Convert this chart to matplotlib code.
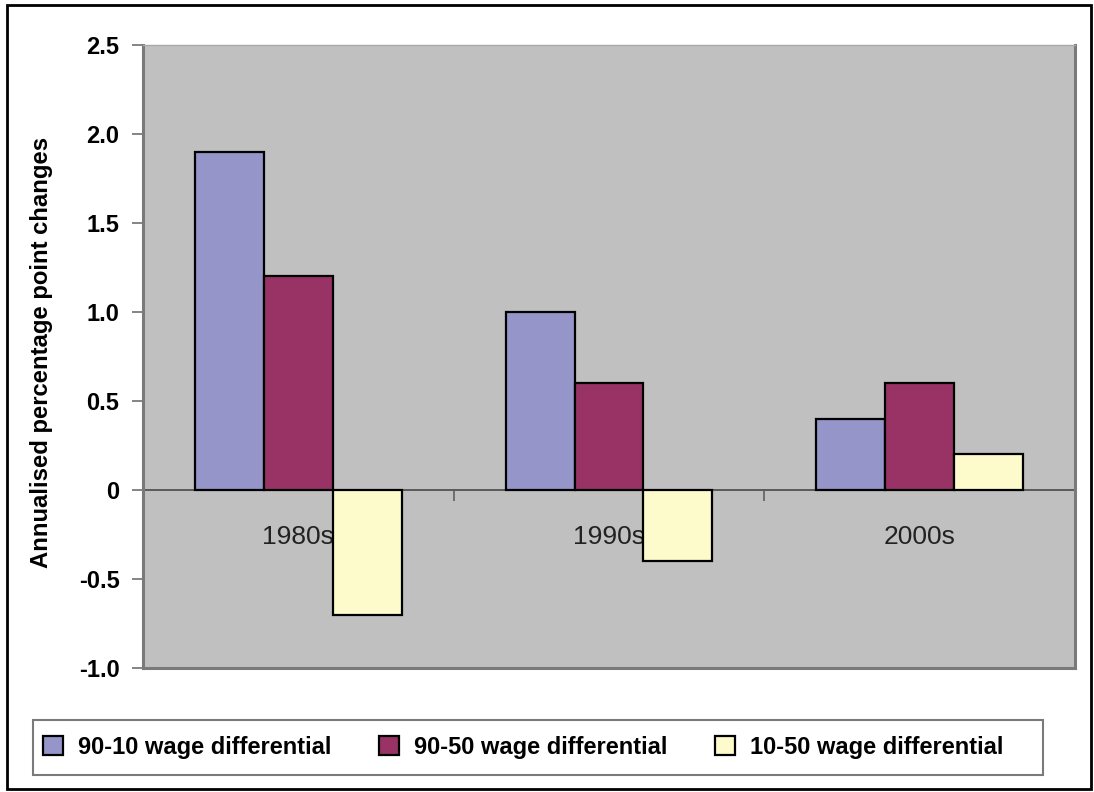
import matplotlib
matplotlib.use("Agg")
import matplotlib.pyplot as plt
import numpy as np
from matplotlib.patches import Rectangle, Patch
from matplotlib.ticker import FixedLocator, FixedFormatter

plt.rcParams['font.family'] = ['Liberation Sans', 'DejaVu Sans']

# Data
decades = ["1980s", "1990s", "2000s"]
series_names = ["90-10 wage differential", "90-50 wage differential", "10-50 wage differential"]
diff_90_10 = [1.9, 1.0, 0.4]
diff_90_50 = [1.2, 0.6, 0.6]
diff_10_50 = [-0.7, -0.4, 0.2]
y_ticks = [-1.0, -0.5, 0.0, 0.5, 1.0, 1.5, 2.0, 2.5]
y_tick_labels = ["-1.0", "-0.5", "0", "0.5", "1.0", "1.5", "2.0", "2.5"]

colors = ["#9595c9", "#993366", "#fdfacb"]

W, H = 1094, 792
fig = plt.figure(figsize=(W / 100, H / 100), dpi=100)
fig.patch.set_facecolor("white")

left, right, top, bottom = 143, 1075, 45, 668
ax = fig.add_axes([left / W, 1 - bottom / H, (right - left) / W, (bottom - top) / H])
ax.set_facecolor("#c0c0c0")

x = np.arange(len(decades))
bw = 0.222
for i, (vals, col) in enumerate(zip([diff_90_10, diff_90_50, diff_10_50], colors)):
    ax.bar(x + (i - 1) * bw, vals, width=bw, color=col, edgecolor="black",
           linewidth=1.6, zorder=3)

ax.axhline(0, color="#5a5a5a", linewidth=1.4, zorder=2)

ax.set_xlim(-0.5, 2.5)
ax.set_ylim(-1.0, 2.5)

# y axis
ax.yaxis.set_major_locator(FixedLocator(y_ticks))
ax.yaxis.set_major_formatter(FixedFormatter(y_tick_labels))
ax.tick_params(axis="y", direction="out", length=8, width=1.2, color="#707070",
               pad=9, labelsize=17)
for lab in ax.get_yticklabels():
    lab.set_fontweight("bold")
ax.set_ylabel("Annualised percentage point changes", fontsize=17.2, fontweight="bold")
ax.yaxis.set_label_coords(-0.0966, 0.506)

# x axis: no labels on the frame; categories sit below the zero line
ax.set_xticks([])
sec = ax.secondary_xaxis(1.0 / 3.5)
sec.set_xticks(x)
sec.set_xticklabels(decades, fontsize=19, color="#222222")
sec.set_xticks([0.5, 1.5], minor=True)
sec.tick_params(axis="x", which="major", length=0, pad=25)
sec.tick_params(axis="x", which="minor", length=8, width=1.2, color="#606060", direction="out")
sec.spines["bottom"].set_visible(False)

for side in ["left", "bottom", "right"]:
    ax.spines[side].set_color("#7a7a7a")
    ax.spines[side].set_linewidth(2.2)
ax.spines["top"].set_color("#a8a8a8")
ax.spines["top"].set_linewidth(1.0)

# Legend box and entries
lx0, lx1, ly0, ly1 = 33, 1043, 720, 775
fig.patches.append(Rectangle((lx0 / W, 1 - ly1 / H), (lx1 - lx0) / W, (ly1 - ly0) / H,
                             transform=fig.transFigure, facecolor="white",
                             edgecolor="#7a7a7a", linewidth=1.5, zorder=1))
handles = [Patch(facecolor=c, edgecolor="black", linewidth=1.6) for c in colors]
fig.legend(handles, series_names, loc="center left", ncol=3, frameon=False,
           bbox_to_anchor=(lx0 / W, 1 - (ly0 + ly1) / 2 / H), borderaxespad=0,
           borderpad=0.42, handlelength=0.85, handleheight=0.85, handletextpad=0.65,
           columnspacing=2.0, prop={"size": 17, "weight": "bold"})

# Outer frame
fig.patches.append(Rectangle((7 / W, 3 / H), 1084 / W, 784 / H, transform=fig.transFigure,
                             fill=False, edgecolor="black", linewidth=2, zorder=5))

fig.savefig("out.png", dpi=100)
